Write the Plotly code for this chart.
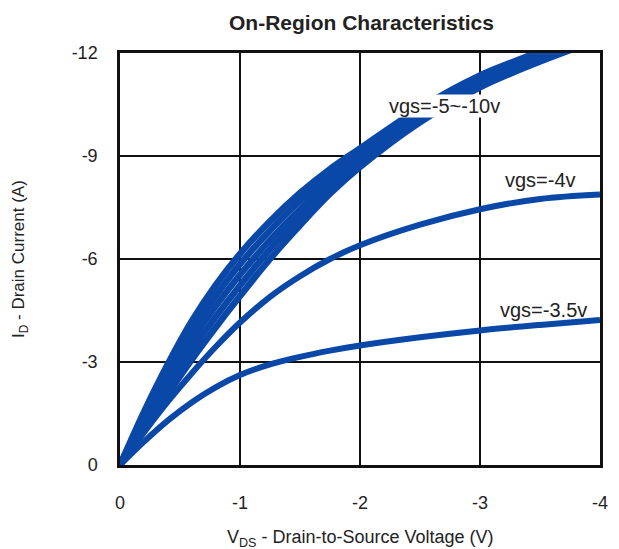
import plotly.graph_objects as go

# Drain-to-source voltage sample points (V)
vds = [0, -0.2, -0.4, -0.6, -0.8, -1.0, -1.25, -1.5, -1.75, -2.0, -2.5, -3.0, -3.5, -4.0]

# Drain current (A) for the high gate-drive family (vgs = -5 ... -10 V)
id_vgs_m10 = [0, -1.55, -2.95, -4.2, -5.25, -6.15, -7.1, -7.92, -8.62, -9.22, -10.4, -11.35, -12.05, -12.8]
id_vgs_m8 = [0, -1.42, -2.73, -3.92, -4.94, -5.85, -6.83, -7.7, -8.45, -9.1, -10.3, -11.27, -11.98, -12.7]
id_vgs_m7 = [0, -1.3, -2.52, -3.64, -4.64, -5.54, -6.55, -7.45, -8.26, -8.95, -10.2, -11.18, -11.9, -12.6]
id_vgs_m6 = [0, -1.18, -2.3, -3.36, -4.33, -5.23, -6.28, -7.22, -8.08, -8.82, -10.1, -11.09, -11.83, -12.5]
id_vgs_m5 = [0, -1.05, -2.08, -3.08, -4.02, -4.92, -6.0, -6.98, -7.9, -8.68, -9.98, -11.0, -11.75, -12.4]

# Lower gate drives
id_vgs_m4 = [0, -0.95, -1.85, -2.68, -3.45, -4.15, -4.9, -5.5, -6.0, -6.4, -7.0, -7.45, -7.75, -7.88]
id_vgs_m35 = [0, -0.68, -1.3, -1.83, -2.27, -2.62, -2.93, -3.15, -3.33, -3.48, -3.72, -3.92, -4.08, -4.22]

x_ticks = [0, -1, -2, -3, -4]
y_ticks = [0, -3, -6, -9, -12]

LINE = "#0a48a8"
FONT = "Arial, Liberation Sans, sans-serif"
TEXT = "#222222"

fig = go.Figure()
for ys in [id_vgs_m10, id_vgs_m8, id_vgs_m7, id_vgs_m6, id_vgs_m5]:
    fig.add_trace(go.Scatter(
        x=vds, y=ys, mode="lines",
        line=dict(color=LINE, width=6.5, shape="spline", smoothing=1.0),
        showlegend=False, hoverinfo="skip",
    ))
for ys in [id_vgs_m4, id_vgs_m35]:
    fig.add_trace(go.Scatter(
        x=vds, y=ys, mode="lines",
        line=dict(color=LINE, width=6, shape="spline", smoothing=1.0),
        showlegend=False, hoverinfo="skip",
    ))

label_font = dict(family=FONT, size=20, color=TEXT)
fig.add_annotation(x=-2.70, y=-10.46, text="vgs=-5~-10v", showarrow=False,
                   font=label_font, bgcolor="white", borderpad=0)
fig.add_annotation(x=-3.5, y=-8.3, text="vgs=-4v", showarrow=False, font=label_font)
fig.add_annotation(x=-3.53, y=-4.51, text="vgs=-3.5v", showarrow=False, font=label_font)

# Axis titles placed in the fixed margins
fig.add_annotation(xref="paper", yref="paper", x=0.5, y=0, yshift=-73,
                   xanchor="center", yanchor="middle", showarrow=False,
                   text="V<sub>DS</sub> - Drain-to-Source Voltage (V)",
                   font=dict(family=FONT, size=18, color=TEXT))
fig.add_annotation(xref="paper", yref="paper", x=0, y=0.5, xshift=-100,
                   xanchor="center", yanchor="middle", showarrow=False, textangle=-90,
                   text="I<sub>D</sub> - Drain Current (A)",
                   font=dict(family=FONT, size=17, color=TEXT))

axis_common = dict(
    showgrid=True, gridcolor="#111111", gridwidth=2,
    showline=True, linecolor="#111111", linewidth=2.5, mirror=True,
    zeroline=False, ticks="", automargin=False,
    tickfont=dict(family=FONT, size=18, color=TEXT),
)

fig.update_xaxes(
    range=[0, -4], tickvals=x_ticks, ticktext=[str(v) for v in x_ticks],
    ticklabelstandoff=20,
    **axis_common,
)
fig.update_yaxes(
    range=[0, -12], tickvals=y_ticks, ticktext=[str(v) for v in y_ticks],
    ticklabelstandoff=16,
    **axis_common,
)

fig.update_layout(
    width=619, height=549,
    margin=dict(l=120, r=19, t=53, b=84),
    paper_bgcolor="white", plot_bgcolor="white",
    title=dict(text="<b>On-Region Characteristics</b>", x=0.584, xanchor="center",
               y=0.958, yanchor="middle",
               font=dict(family=FONT, size=21, color=TEXT)),
)

fig.write_html("out.html")
